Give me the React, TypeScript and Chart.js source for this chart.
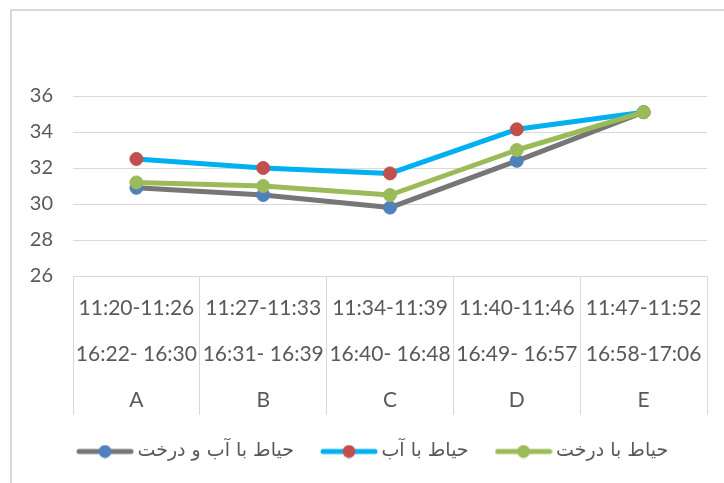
import React, { useEffect, useRef } from 'react';
import { Chart, registerables } from 'chart.js';

Chart.register(...registerables);

// ---- data ----
const categories = ['A', 'B', 'C', 'D', 'E'];
const morningTimes = ['11:20-11:26', '11:27-11:33', '11:34-11:39', '11:40-11:46', '11:47-11:52'];
const eveningTimes = ['16:22- 16:30', '16:31- 16:39', '16:40- 16:48', '16:49- 16:57', '16:58-17:06'];
const seriesNames = ['حیاط با آب و درخت', 'حیاط با آب', 'حیاط با درخت'];
const waterAndTrees = [30.9, 30.5, 29.8, 32.4, 35.1];
const waterOnly = [32.5, 32.0, 31.7, 34.15, 35.1];
const treesOnly = [31.2, 31.0, 30.5, 33.0, 35.1];
const yTicks = [26, 28, 30, 32, 34, 36];

// ---- styles ----
const lineColors = ['#767676', '#00b0f0', '#9bbb59'];
const markerColors = ['#4f81bd', '#c0504d', '#9bbb59'];
const textColor = '#595959';
const gridColor = '#d9d9d9';

function makeSample(line: string, marker: string): HTMLCanvasElement {
  const c = document.createElement('canvas');
  c.width = 58;
  c.height = 14;
  const ctx = c.getContext('2d')!;
  ctx.strokeStyle = line;
  ctx.lineWidth = 5;
  ctx.lineCap = 'round';
  ctx.beginPath();
  ctx.moveTo(3, 7);
  ctx.lineTo(55, 7);
  ctx.stroke();
  ctx.fillStyle = marker;
  ctx.beginPath();
  ctx.arc(29, 7, 6.5, 0, Math.PI * 2);
  ctx.fill();
  return c;
}

// place the legend row so it starts where the reference's does
const legendShift = {
  id: 'legendShift',
  afterLayout(chart: any) {
    const lg = chart.legend;
    if (lg) {
      lg.left = 50;
      lg.right = chart.width;
    }
  },
};

export default function App() {
  const ref = useRef<HTMLCanvasElement | null>(null);

  useEffect(() => {
    if (!ref.current) return;
    const samples = [0, 1, 2].map((i) => makeSample(lineColors[i], markerColors[i]));
    const seriesValues = [waterAndTrees, waterOnly, treesOnly];
    const labels = categories.map((c, i) => [morningTimes[i], eveningTimes[i], c]);

    const chart = new Chart(ref.current, {
      type: 'line',
      data: {
        labels,
        datasets: seriesValues.map((vals, i) => ({
          label: seriesNames[i],
          data: vals,
          borderColor: lineColors[i],
          backgroundColor: markerColors[i],
          pointBackgroundColor: markerColors[i],
          pointBorderColor: markerColors[i],
          pointBorderWidth: 1,
          pointRadius: 6.5,
          pointHoverRadius: 6.5,
          borderWidth: 5,
          borderCapStyle: 'round',
          borderJoinStyle: 'round',
          tension: 0,
          fill: false,
          order: 3 - i,
        })),
      },
      plugins: [legendShift],
      options: {
        responsive: false,
        animation: false,
        layout: { padding: { top: 96, right: 17, bottom: 12, left: 0 } },
        scales: {
          x: {
            type: 'category',
            offset: true,
            grid: {
              display: true,
              offset: true,
              drawOnChartArea: false,
              drawTicks: true,
              tickLength: 139,
              color: gridColor,
              lineWidth: 1,
            },
            border: { display: true, color: gridColor, width: 1 },
            ticks: {
              autoSkip: false,
              maxRotation: 0,
              minRotation: 0,
              padding: -130,
              color: textColor,
              font: { family: 'Lato', size: 21, lineHeight: 46 / 21 },
            },
            afterFit: (scale: any) => {
              scale.height = 134;
            },
          },
          y: {
            min: yTicks[0],
            max: yTicks[yTicks.length - 1],
            grid: { color: gridColor, lineWidth: 1, drawTicks: false },
            border: { display: false },
            ticks: {
              stepSize: yTicks[1] - yTicks[0],
              padding: 20,
              color: textColor,
              font: { family: 'Lato', size: 20 },
            },
            afterFit: (scale: any) => {
              scale.width = 73;
            },
          },
        },
        plugins: {
          tooltip: { enabled: false },
          legend: {
            display: true,
            position: 'bottom',
            align: 'start',
            labels: {
              usePointStyle: true,
              pointStyleWidth: 46,
              padding: 32,
              color: textColor,
              font: { family: 'DejaVu Sans', size: 19 },
              generateLabels: (ch: any) =>
                ch.data.datasets.map((ds: any, i: number) => ({
                  text: ds.label,
                  pointStyle: samples[i],
                  fillStyle: 'rgba(0,0,0,0)',
                  strokeStyle: 'rgba(0,0,0,0)',
                  lineWidth: 0,
                  hidden: false,
                  datasetIndex: i,
                  fontColor: textColor,
                })),
            },
          },
        },
      } as any,
    });
    return () => chart.destroy();
  }, []);

  return (
    <div
      style={{
        position: 'fixed',
        left: 0,
        top: 0,
        width: 724,
        height: 483,
        background: '#ffffff',
        overflow: 'hidden',
      }}
    >
      <canvas ref={ref} width={724} height={483} style={{ display: 'block' }} />
      <div
        style={{
          position: 'absolute',
          left: 10,
          top: 9,
          width: 800,
          height: 600,
          borderLeft: '2px solid #d9d9d9',
          borderTop: '2px solid #d9d9d9',
          pointerEvents: 'none',
        }}
      />
    </div>
  );
}
